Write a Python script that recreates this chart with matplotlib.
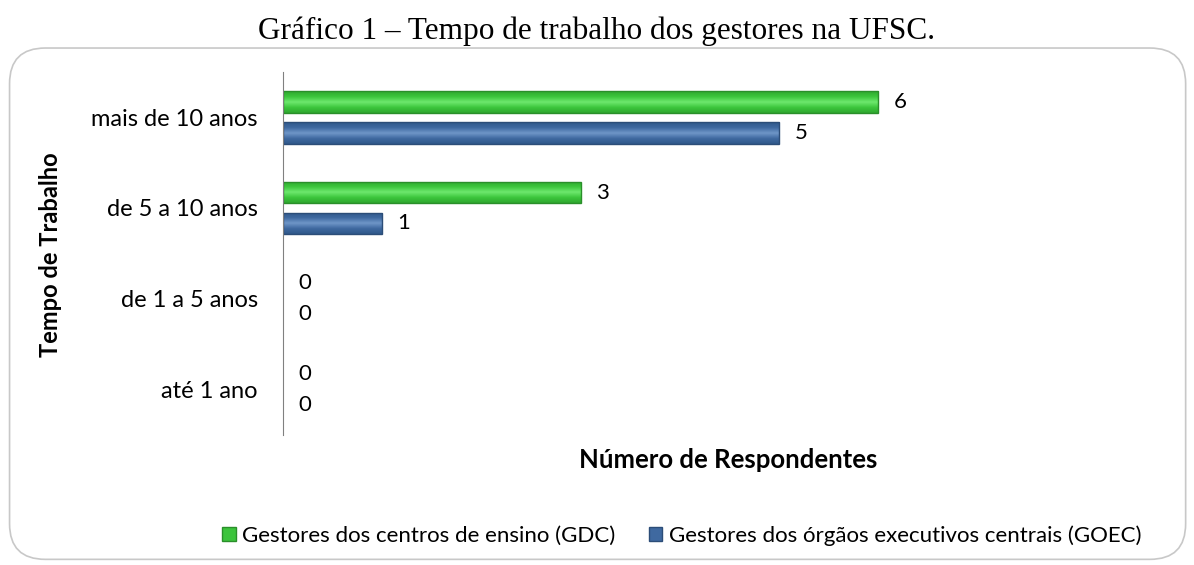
import numpy as np
import matplotlib.pyplot as plt
from matplotlib.patches import FancyBboxPatch, Patch
from matplotlib.colors import LinearSegmentedColormap

categorias = ["até 1 ano", "de 1 a 5 anos", "de 5 a 10 anos", "mais de 10 anos"]
gdc = [0, 0, 3, 6]
goec = [0, 0, 1, 5]
nomes = ["Gestores dos centros de ensino (GDC)",
         "Gestores dos órgãos executivos centrais (GOEC)"]

verde = "#3cc43c"
verde_borda = "#2a8f2a"
azul = "#3f69a0"
azul_borda = "#2c4d78"

# gradientes de cima para baixo (efeito bisel)
grad_verde = LinearSegmentedColormap.from_list("gv", ["#2fa82f", "#3cc63c", "#6ee86e", "#3cc63c", "#2fa82f"])
grad_azul = LinearSegmentedColormap.from_list("ga", ["#30588a", "#3f69a0", "#6f96c8", "#3f69a0", "#30588a"])

plt.rcParams['font.family'] = ['Lato', 'DejaVu Sans']

fig = plt.figure(figsize=(11.94, 5.65), dpi=100)
fig.patches.append(FancyBboxPatch((0.008, 0.01), 0.985, 0.905,
                                  boxstyle="round,pad=0,rounding_size=0.03",
                                  transform=fig.transFigure, fc="white",
                                  ec="#c8c8c8", lw=1.2, mutation_aspect=2.1,
                                  zorder=-5))
fig.text(0.5, 0.945, "Gráfico 1 – Tempo de trabalho dos gestores na UFSC.",
         ha="center", va="center", fontsize=22.5, family="Liberation Serif")

ax = fig.add_axes([0.237, 0.23, 0.748, 0.643])
ax.set_zorder(3)
ax.set_facecolor("none")
y = range(len(categorias))
h = 0.24
off = 0.17
b1 = ax.barh([i + off for i in y], gdc, height=h, color=verde, edgecolor=verde_borda, lw=1)
b2 = ax.barh([i - off for i in y], goec, height=h, color=azul, edgecolor=azul_borda, lw=1)

grad = np.linspace(0, 1, 64).reshape(-1, 1)
for bars, cmap in [(b1, grad_verde), (b2, grad_azul)]:
    for p in bars:
        if p.get_width() <= 0:
            p.set_visible(False)
            continue
        x0, y0 = p.get_x(), p.get_y()
        im = ax.imshow(grad, cmap=cmap, aspect="auto", origin="lower",
                       extent=[x0, x0 + p.get_width(), y0, y0 + p.get_height()],
                       zorder=p.get_zorder() + 0.1)
        im.set_clip_path(p)
        p.set_zorder(p.get_zorder() + 0.2)
        p.set_facecolor("none")

for i in y:
    ax.text(gdc[i] + 0.22, i + off, str(gdc[i]), va="center", ha="center", fontsize=16)
    ax.text(goec[i] + 0.22, i - off, str(goec[i]), va="center", ha="center", fontsize=16)

ax.set_xlim(0, 9)
ax.set_ylim(-0.5, 3.5)
ax.set_yticks(list(y))
ax.set_yticklabels(categorias, fontsize=17)
ax.set_xticks([])
ax.tick_params(axis="y", length=0, pad=18)
for s in ["top", "right", "bottom"]:
    ax.spines[s].set_visible(False)
ax.spines["left"].set_color("#808080")

fig.text(0.61, 0.185, "Número de Respondentes", ha="center", va="center",
         fontsize=18.5, fontweight="bold")
fig.text(0.042, 0.55, "Tempo de Trabalho", ha="center", va="center",
         fontsize=17, fontweight="bold", rotation=90)

handles = [Patch(fc=verde, ec=verde_borda), Patch(fc=azul, ec=azul_borda)]
fig.legend(handles, nomes, loc="center", bbox_to_anchor=(0.571, 0.052), ncol=2,
           frameon=False, fontsize=16, handlelength=0.6, handleheight=0.6,
           handletextpad=0.3, columnspacing=1.5)

fig.savefig("out.png", dpi=100)
